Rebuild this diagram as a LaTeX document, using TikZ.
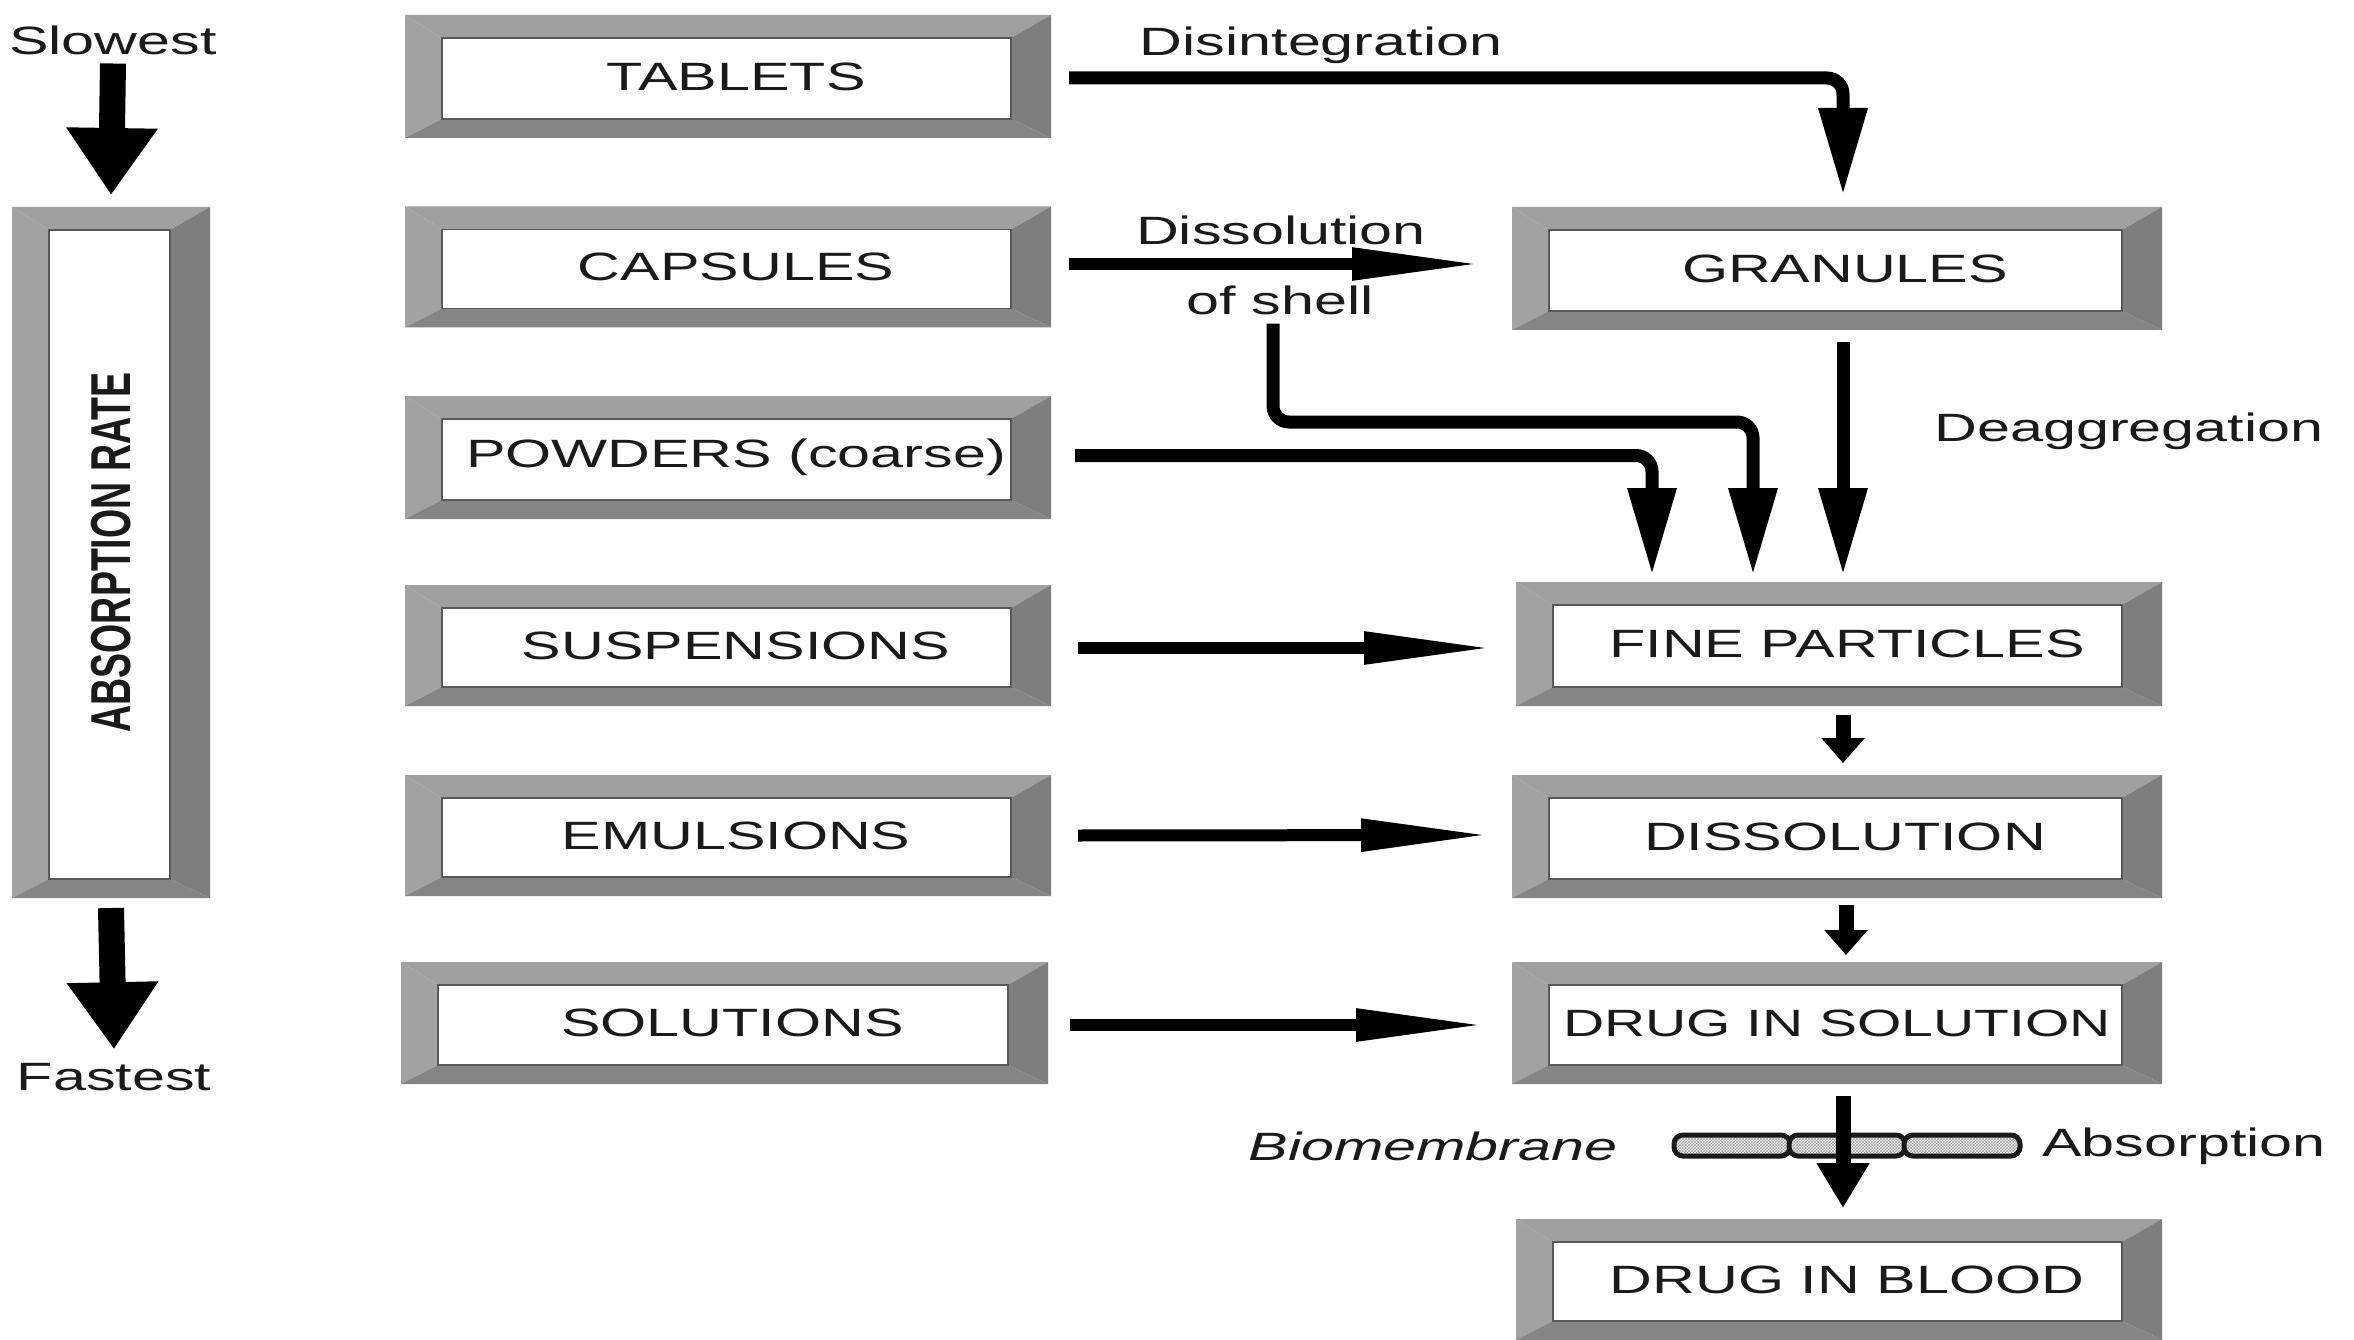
\documentclass[tikz,border=0pt]{standalone}
\usepackage{fontspec}
\setmainfont[FakeStretch=1.5]{Liberation Sans}
\newfontfamily\plainsans{Liberation Sans}
\usetikzlibrary{arrows.meta,patterns}
\definecolor{gtop}{HTML}{A0A0A0}
\definecolor{gleft}{HTML}{A2A2A2}
\definecolor{gright}{HTML}{7E7E7E}
\definecolor{gbot}{HTML}{858585}
\definecolor{txt}{HTML}{1A1A1A}
\begin{document}
\begin{tikzpicture}[x=1pt,y=-1pt,
  every node/.style={font=\fontsize{39.5}{44}\selectfont, text=txt, inner sep=0pt, outer sep=0pt},
  bev/.style 2 args={minimum width=#1, minimum height=#2, fill=white,
    path picture={
      \coordinate (pNW) at (path picture bounding box.north west);
      \coordinate (pSE) at (path picture bounding box.south east);
      \coordinate (pNE) at (path picture bounding box.north east);
      \coordinate (pSW) at (path picture bounding box.south west);
      \coordinate (qNW) at ([xshift=37pt,yshift=-23pt]pNW);
      \coordinate (qNE) at ([xshift=-40pt,yshift=-23pt]pNE);
      \coordinate (qSE) at ([xshift=-40pt,yshift=19pt]pSE);
      \coordinate (qSW) at ([xshift=37pt,yshift=19pt]pSW);
      \fill[gtop] (pNW) -- (pNE) -- (qNE) -- (qNW) -- cycle;
      \fill[gleft] (pNW) -- (qNW) -- (qSW) -- (pSW) -- cycle;
      \fill[gright] (pNE) -- (pSE) -- (qSE) -- (qNE) -- cycle;
      \fill[gbot] (pSW) -- (qSW) -- (qSE) -- (pSE) -- cycle;
      \draw[line width=1.2pt, black!65] (qNW) rectangle (qSE);
    }},
  lbl/.style={execute at begin node={\hspace{16pt}}},
  varr/.style={line width=13pt, -{Triangle[length=87pt,width=46pt]}, rounded corners=16pt},
  harr/.style={line width=12pt, -{Triangle[length=130pt,width=30pt]}},
  sarr/.style={line width=15pt, -{Triangle[length=25pt,width=42pt]}},
  barr/.style={line width=15pt, -{Triangle[length=45pt,width=50pt]}},
  bigarr/.style={line width=26pt, -{Triangle[length=67pt,width=87pt]}},
  mem/.style={minimum width=116pt, minimum height=21pt}
]
\fill[white] (0,0) rectangle (2354,1340);
\useasboundingbox (0,0) rectangle (2354,1340);

% left column
\node[bev={646pt}{123pt},lbl] (tab) at (728,76.5) {TABLETS};
\node[bev={646pt}{121pt},lbl] (cap) at (728,267) {CAPSULES};
\node[bev={646pt}{123pt},lbl] (pow) at (728,457.5) {POWDERS (coarse)};
\node[bev={646pt}{121pt},lbl] (sus) at (728,645.5) {SUSPENSIONS};
\node[bev={646pt}{121pt},lbl] (emu) at (728,835.5) {EMULSIONS};
\node[bev={647pt}{122pt},lbl] (sol) at (724.5,1023) {SOLUTIONS};

% right column
\node[bev={650pt}{123pt},lbl] (gra) at (1837,268.5) {GRANULES};
\node[bev={646pt}{124pt},lbl] (fin) at (1839,644) {FINE PARTICLES};
\node[bev={650pt}{123pt},lbl] (dis) at (1837,836.5) {DISSOLUTION};
\node[bev={650pt}{122pt},font=\fontsize{38}{44}\selectfont] (dsol) at (1837,1023) {DRUG IN SOLUTION};
\node[bev={646pt}{121pt},lbl] (blo) at (1839,1279.5) {DRUG IN BLOOD};

% absorption rate bar
\node[bev={198pt}{691pt}] (abs) at (111,552.5)
  {\scalebox{1.5}[1]{\rotatebox{90}{\plainsans\bfseries\fontsize{37.5}{40}\selectfont ABSORPTION RATE}}\hspace{8pt}};

% labels
\node (slow) at (113,40) {Slowest};
\node (fast) at (114,1077) {Fastest};
\node (disint) at (1321,45) {Disintegration};
\node (diss) at (1281,230) {Dissolution};
\node (shl) at (1280,300) {of shell};
\node (deag) at (2129,431) {Deaggregation};
\node (biom) at (1433,1146) {\itshape Biomembrane};
\node (absn) at (2184,1146) {Absorption};

% biomembrane
\foreach \n/\cx in {m1/1732,m2/1847,m3/1962}{
  \node[mem] (\n) at (\cx,1145.5) {};
  \fill[gray!12, rounded corners=9pt] (\n.north west) rectangle (\n.south east);
  \fill[pattern=crosshatch, pattern color=gray!70, rounded corners=9pt] (\n.north west) rectangle (\n.south east);
  \draw[black!90, line width=5pt, rounded corners=9pt] (\n.north west) rectangle (\n.south east);
}

% rate arrows
\draw[bigarr] ([yshift=-9pt]slow.south) -- ([yshift=12pt]abs.north);
\draw[bigarr] ([yshift=-10pt]abs.south) -- ([yshift=14pt]fast.north);

% connectors
\draw[varr] ([xshift=18pt,yshift=-1.5pt]tab.east) -| ([xshift=6pt,yshift=12pt]gra.north);
\draw[harr] ([xshift=18pt,yshift=3pt]cap.east) -- ([xshift=-30pt,yshift=4.5pt]gra.west);
\draw[varr] ([xshift=-7pt,yshift=-9pt]shl.south) |- ([xshift=-86pt,yshift=160pt]fin.north) -- ([xshift=-86pt,yshift=7pt]fin.north);
\draw[varr] ([xshift=24pt,yshift=2pt]pow.east) -| ([xshift=-187pt,yshift=7pt]fin.north);
\draw[varr] ([xshift=6pt,yshift=-12pt]gra.south) -- ([xshift=4pt,yshift=7pt]fin.north);
\draw[harr] ([xshift=27pt,yshift=-2.5pt]sus.east) -- ([xshift=-22pt,yshift=-4pt]fin.west);
\draw[harr] ([xshift=27pt]emu.east) -- ([xshift=-21pt,yshift=1.5pt]dis.west);
\draw[harr] ([xshift=22pt,yshift=-2pt]sol.east) -- ([xshift=-26pt,yshift=-2pt]dsol.west);
\draw[sarr] ([xshift=4pt,yshift=-9pt]fin.south) -- ([xshift=6pt,yshift=12pt]dis.north);
\draw[sarr] ([xshift=9pt,yshift=-7pt]dis.south) -- ([xshift=9pt,yshift=7pt]dsol.north);
\draw[barr] ([xshift=6pt,yshift=-12pt]dsol.south) -- ([xshift=4pt,yshift=11pt]blo.north);
\end{tikzpicture}
\end{document}
